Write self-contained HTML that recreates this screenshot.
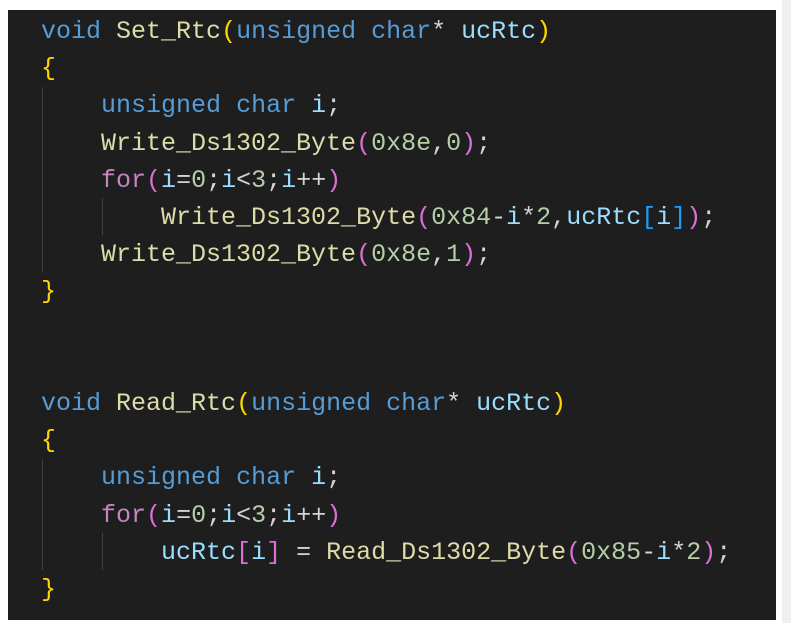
<!DOCTYPE html>
<html><head><style>
html,body{margin:0;padding:0;background:#fff;width:791px;height:623px;overflow:hidden;position:relative}
.strip{position:absolute;left:782px;top:0;width:9px;height:623px;background:#efefef}
.bg{position:absolute;left:8px;top:10px;width:768px;height:610px;background:#1e1e1e}
pre{position:absolute;left:41px;top:13px;margin:0;font-family:"Liberation Mono",monospace;font-size:25px;line-height:37.2px;color:#d4d4d4}
.k{color:#569cd6}.f{color:#dcdcaa}.v{color:#9cdcfe}.c{color:#c586c0}.n{color:#b5cea8}
.b1{color:#ffd700}.b2{color:#da70d6}.b3{color:#179fff}
.g{position:absolute;width:1px;background:#404040}
</style></head><body>
<div class="strip"></div>
<div class="bg"></div>
<div class="g" style="left:42px;top:87px;height:186px"></div>
<div class="g" style="left:102px;top:198px;height:37px"></div>
<div class="g" style="left:42px;top:459px;height:111px"></div>
<div class="g" style="left:102px;top:533px;height:37px"></div>
<pre><span class="k">void</span> <span class="f">Set_Rtc</span><span class="b1">(</span><span class="k">unsigned</span> <span class="k">char</span>* <span class="v">ucRtc</span><span class="b1">)</span>
<span class="b1">{</span>
    <span class="k">unsigned</span> <span class="k">char</span> <span class="v">i</span>;
    <span class="f">Write_Ds1302_Byte</span><span class="b2">(</span><span class="n">0x8e</span>,<span class="n">0</span><span class="b2">)</span>;
    <span class="c">for</span><span class="b2">(</span><span class="v">i</span>=<span class="n">0</span>;<span class="v">i</span>&lt;<span class="n">3</span>;<span class="v">i</span>++<span class="b2">)</span>
        <span class="f">Write_Ds1302_Byte</span><span class="b2">(</span><span class="n">0x84</span>-<span class="v">i</span>*<span class="n">2</span>,<span class="v">ucRtc</span><span class="b3">[</span><span class="v">i</span><span class="b3">]</span><span class="b2">)</span>;
    <span class="f">Write_Ds1302_Byte</span><span class="b2">(</span><span class="n">0x8e</span>,<span class="n">1</span><span class="b2">)</span>;
<span class="b1">}</span>


<span class="k">void</span> <span class="f">Read_Rtc</span><span class="b1">(</span><span class="k">unsigned</span> <span class="k">char</span>* <span class="v">ucRtc</span><span class="b1">)</span>
<span class="b1">{</span>
    <span class="k">unsigned</span> <span class="k">char</span> <span class="v">i</span>;
    <span class="c">for</span><span class="b2">(</span><span class="v">i</span>=<span class="n">0</span>;<span class="v">i</span>&lt;<span class="n">3</span>;<span class="v">i</span>++<span class="b2">)</span>
        <span class="v">ucRtc</span><span class="b2">[</span><span class="v">i</span><span class="b2">]</span> = <span class="f">Read_Ds1302_Byte</span><span class="b2">(</span><span class="n">0x85</span>-<span class="v">i</span>*<span class="n">2</span><span class="b2">)</span>;
<span class="b1">}</span></pre>
</body></html>
